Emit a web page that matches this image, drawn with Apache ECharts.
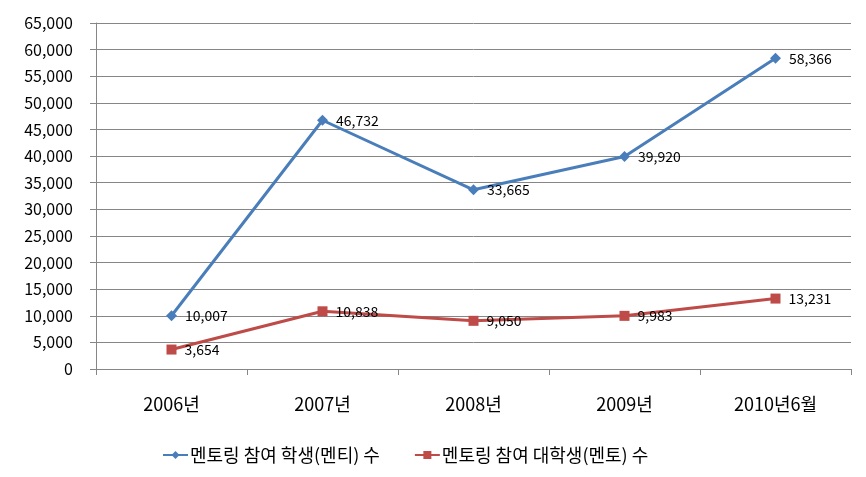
<!DOCTYPE html>
<html><head><meta charset="utf-8">
<script src="https://cdn.jsdelivr.net/npm/echarts@6/dist/echarts.min.js"></script>
<style>html,body{margin:0;padding:0;background:#fff}#c{width:866px;height:477px}</style>
</head><body><div id="c"></div>
<script>
const categories = ['2006년','2007년','2008년','2009년','2010년6월'];
const menteeName = '멘토링 참여 학생(멘티) 수';
const mentorName = '멘토링 참여 대학생(멘토) 수';
const menteeValues = [10007, 46732, 33665, 39920, 58366];
const mentorValues = [3654, 10838, 9050, 9983, 13231];
const yTicks = {min: 0, max: 65000, interval: 5000};

const font = '"Noto Sans CJK KR", "Malgun Gothic", sans-serif';
const chart = echarts.init(document.getElementById('c'));
const lbl = {show: true, position: 'right', distance: 8, color: '#000', fontSize: 14, fontFamily: font,
  formatter: p => p.value.toLocaleString('en-US')};
chart.setOption({
  animation: false,
  textStyle: {fontFamily: font},
  grid: {left: 96, right: 15, top: 23, bottom: 108},
  legend: {
    bottom: 8, left: 157, itemGap: 34, itemWidth: 25, itemHeight: 10,
    textStyle: {fontSize: 18, color: '#000', fontFamily: font, padding: [0, 0, 0, -3]},
    data: [menteeName, mentorName]
  },
  xAxis: {
    type: 'category', data: categories, boundaryGap: true,
    axisLine: {lineStyle: {color: '#868686', width: 1}},
    axisTick: {show: true, length: 6, lineStyle: {color: '#868686'}},
    axisLabel: {color: '#000', fontSize: 18, margin: 26, fontFamily: font}
  },
  yAxis: {
    type: 'value', min: yTicks.min, max: yTicks.max, interval: yTicks.interval,
    axisLine: {show: true, lineStyle: {color: '#868686'}},
    axisTick: {show: true, length: 6, lineStyle: {color: '#868686'}},
    splitLine: {lineStyle: {color: '#868686', width: 1}},
    axisLabel: {color: '#000', fontSize: 16, margin: 23, fontFamily: font,
      formatter: v => v.toLocaleString('en-US')}
  },
  series: [
    {name: menteeName, type: 'line', data: menteeValues, symbol: 'diamond', symbolSize: 11,
     lineStyle: {color: '#4a7ebb', width: 3}, itemStyle: {color: '#4a7ebb'}, label: lbl},
    {name: mentorName, type: 'line', data: mentorValues, symbol: 'rect', symbolSize: 10,
     lineStyle: {color: '#be4b48', width: 3}, itemStyle: {color: '#be4b48'}, label: lbl}
  ]
});
</script></body></html>
